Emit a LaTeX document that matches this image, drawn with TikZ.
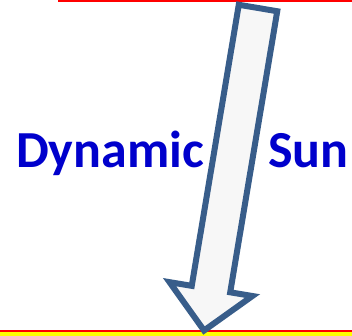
\documentclass[tikz,border=0pt]{standalone}
\usepackage{fontspec}
\setmainfont{Carlito}
\definecolor{arrowblue}{HTML}{385D8A}
\definecolor{arrowfill}{HTML}{F7F7F7}
\definecolor{textblue}{HTML}{0000CC}
\definecolor{boxred}{HTML}{FF0000}
\definecolor{boxyellow}{HTML}{FFFF00}
\tikzset{
  bigarrow/.style={draw=arrowblue, fill=arrowfill, line width=6pt, line join=miter},
  redbox/.style={draw=boxred, line width=2pt},
  label/.style={text=textblue, font=\fontsize{52}{55}\selectfont\bfseries, inner sep=0pt, anchor=base west},
}
\begin{document}
\begin{tikzpicture}[x=1pt,y=1pt]
\useasboundingbox (0,0) rectangle (352,335);
\clip (0,0) rectangle (352,335);
% top box (mostly off the page)
\draw[redbox] (59.3,333.8) rectangle (370,360);
% bottom box
\draw[redbox, fill=boxyellow] (-10,3.8) rectangle (370,-20);
% arrow
\begin{scope}[shift={(258,327)}, rotate=-9.5]
\draw[bigarrow] (-19.5,0) -- (19.5,0) -- (19.5,-285) -- (42,-285) -- (0,-327) -- (-42,-285) -- (-19.5,-285) -- cycle;
\end{scope}
\node[label] (dyn) at (16,168) {Dynamic};
\node[label] (sun) at (268,168) {Sun};
\end{tikzpicture}
\end{document}
